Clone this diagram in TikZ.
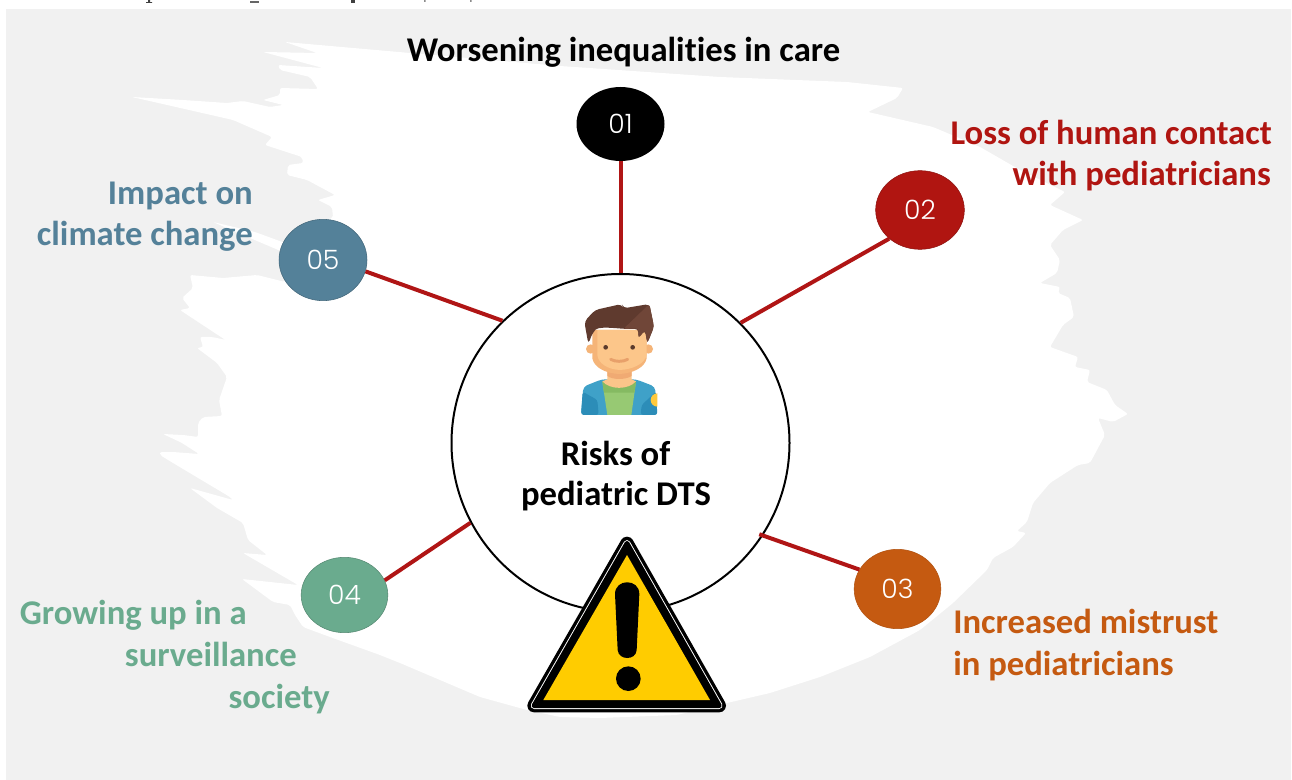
\documentclass[tikz,border=0pt]{standalone}
\usepackage{fontspec}
\usetikzlibrary{shapes.geometric}
\setmainfont{Carlito}[Ligatures=NoCommon]
\newfontfamily\numfont{Poppins Light}
\definecolor{bggray}{HTML}{F1F1F1}
\definecolor{linkred}{HTML}{B01515}
\definecolor{cred}{HTML}{B01511}
\definecolor{cora}{HTML}{C55A11}
\definecolor{cgreen}{HTML}{6AAB8E}
\definecolor{cblue}{HTML}{548199}
\tikzset{
  numnode/.style={ellipse,minimum width=#1,inner sep=0pt,text=white,font=\numfont\fontsize{20}{22}\selectfont},
  link/.style={draw=linkred,line width=3pt},
  lab/.style={font=\bfseries\fontsize{26}{28}\selectfont,inner sep=0pt},
}
\begin{document}
\begin{tikzpicture}[x=0.75pt,y=-0.75pt]
\useasboundingbox (0,0) rectangle (1292,780);
\fill[white] (0,0) rectangle (1292,780);
\fill[bggray] (6,9) rectangle (1291,780);
% cut-off caption line at the very top
\fill[black!75] (148,0) rectangle (150,2.5) (146,2.2) rectangle (152,3);
\fill[black!60] (250,1.5) rectangle (259,3);
\fill[black!75] (350.5,0) rectangle (354.5,3);
\fill[black!45] (424,0) rectangle (425.5,2) (470,0) rectangle (471.5,2);
% brush stroke
\fill[white,rounded corners=1.5pt]
(285,42)--(410,53)--(560,66)--(720,77)--(847,82)--(903,88)--(897,98)--(868,112)--(933,127)--(980,147)--(1020,170)--(1065,192)--(1050,205)--(1083,220)--(1063,230)--(1050,245)--(1060,260)--(1057,273)--(1040,283)--(1060,287)--(1058,293)--(1070,298)--(1074,317)--(1063,325)--(1050,347)--(1078,357)--(1075,367)--(1090,370)--(1087,382)--(1107,390)--(1115,405)--(1128,414)--(1113,422)--(1098,418)--(1105,435)--(1097,450)--(1090,463)--(1078,465)--(1050,483)--(1033,503)--(1027,522)--(1017,531)--(1026,533)--(1013,547)--(993,558)--(987,570)--(953,603)--(920,630)--(870,657)--(820,677)--(770,693)--(727,703)--(677,715)--(600,718)--(560,717)--(527,710)--(480,697)--(440,680)--(400,663)--(380,655)--(330,637)--(303,627)--(295,615)--(290,605)--(273,602)--(242,579)--(298,585)--(243,553)--(267,555)--(248,540)--(243,523)--(217,508)--(190,488)--(233,500)--(230,497)--(173,463)--(160,455)--(160,452)--(173,452)--(199,454)--(182,443)--(163,434)--(183,435)--(198,437)--(198,423)--(203,417)--(222,416)--(219,400)--(227,377)--(217,363)--(197,348)--(203,347)--(200,337)--(212,337)--(245,344)--(230,343)--(180,310)--(190,308)--(182,298)--(193,288)--(190,275)--(223,278)--(257,275)--(285,282)--(295,260)--(283,252)--(250,238)--(213,222)--(255,232)--(285,243)--(300,225)--(333,218)--(332,207)--(318,200)--(335,195)--(307,180)--(287,175)--(288,165)--(303,163)--(302,157)--(265,145)--(272,137)--(233,120)--(132,97)--(183,100)--(227,103)--(243,101)--(270,107)--(283,105)--(263,100)--(280,95)--(280,88)--(318,89)--(310,77)--(280,70)--(278,65)--(323,68)--(263,52)--(317,53)--cycle;

% nodes
\node[circle,draw=black,line width=1.5pt,fill=white,minimum size=253.5pt,inner sep=0pt] (main) at (620.5,443) {};
\node[numnode=66pt,minimum height=55.5pt,fill=black] (n1) at (620.5,124) {01};
\node[numnode=66.5pt,minimum height=59pt,fill=cred,draw=cred!80!black] (n2) at (920,210) {02};
\node[numnode=65pt,minimum height=59.5pt,fill=cora,draw=cora!90!black] (n3) at (897.5,589) {03};
\node[numnode=65pt,minimum height=56.5pt,fill=cgreen,draw=cgreen!80!black] (n4) at (344.5,595) {04};
\node[numnode=66pt,minimum height=61pt,fill=cblue,draw=cblue!80!black] (n5) at (323,260) {05};
% connectors
\draw[link] (n1.south) -- (main.north);
\draw[link] (n2.223) -- (main.45);
\draw[link,shorten >=-3pt] (n3.153) -- (main.-33);
\draw[link] (n4.20) -- (main.208.4);
\draw[link] (n5.-15) -- (main.134.3);

% person
\begin{scope}[shift={(520,280)},scale=1/3]
\fill[rounded corners=3pt,fill={rgb,255:red,63;green,161;blue,200}] (190,320)--(245,298)--(348,298)--(405,320)--(412,405)--(183,405)--cycle;
\fill[rounded corners=2pt,fill={rgb,255:red,44;green,141;blue,184}] (188,335)--(232,360)--(236,405)--(183,405)--cycle (408,335)--(365,375)--(362,405)--(412,405)--cycle;
\begin{scope}
\clip (340,320) rectangle (412,405);
\fill[fill={rgb,255:red,255;green,201;blue,60}] (412,360) circle[radius=20];
\end{scope}
\fill[fill={rgb,255:red,151;green,201;blue,115}] (247,305)--(348,305)--(334,405)--(262,405)--cycle;
\fill[fill={rgb,255:red,133;green,186;blue,98}] (247,305)--(348,305)--(343,338)--(252,338)--cycle;
\fill[fill={rgb,255:red,251;green,197;blue,138}] (262,260)--(335,260)--(335,298)--(348,304) .. controls (325,330) and (270,330) .. (247,304)--(262,298)--cycle;
\fill[fill={rgb,255:red,240;green,170;blue,115}] (262,265)--(335,265)--(335,288) .. controls (315,300) and (280,300) .. (262,288)--cycle;
\fill[fill={rgb,255:red,245;green,180;blue,120}] (212,207) circle[radius=14] (385,207) circle[radius=14];
\fill[fill={rgb,255:red,245;green,180;blue,120}] (217,150)--(380,150)--(380,235) .. controls (375,262) and (340,280) .. (298,282) .. controls (255,280) and (222,262) .. (217,235)--cycle;
\fill[fill={rgb,255:red,252;green,198;blue,138}] (232,150)--(380,150)--(380,225) .. controls (375,250) and (340,268) .. (300,270) .. controls (262,268) and (235,250) .. (232,225)--cycle;
\fill[rounded corners=3pt,fill={rgb,255:red,95;green,58;blue,46}] (205,192)--(193,125)--(225,90)--(305,72)--(310,85)--(388,72)--(402,140)--(382,190)--(375,150)--(355,175)--(355,145) .. controls (310,150) and (240,135) .. (218,158)--cycle;
\fill[rounded corners=2pt,fill={rgb,255:red,112;green,70;blue,56}] (388,72)--(402,140)--(382,190)--(375,150)--(355,175)--(355,145)--(310,147)--cycle;
\fill[fill={rgb,255:red,90;green,58;blue,44}] (257,202) circle[radius=7] (338,202) circle[radius=7];
\draw[draw={rgb,255:red,232;green,160;blue,106},line width=2.2pt,line cap=round] (272,238) .. controls (285,246) and (310,246) .. (323,238);
\end{scope}

\node[lab,anchor=base] (risk1) at (615.5,465) {Risks of};
\node[lab,anchor=base] (risk2) at (616,505) {pediatric DTS};

% warning sign
\begin{scope}[shift={(510,520)},scale=1/3]
\draw[line width=10pt,line join=round] (351,70)--(72,557)--(628,557)--cycle;
\draw[white,line width=5pt,line join=round] (351,70)--(72,557)--(628,557)--cycle;
\draw[line width=3.6pt,line join=round,fill=black] (351,70)--(72,557)--(628,557)--cycle;
\fill[fill={rgb,255:red,255;green,204;blue,0}] (351,105)--(100,540)--(600,540)--cycle;
\fill[black] (315,222) .. controls (315,175) and (388,175) .. (388,222) -- (380,390) .. controls (378,422) and (326,422) .. (323,390) -- cycle;
\fill[black] (355,476) circle[radius=37];
\end{scope}

% labels
\node[lab,anchor=base] (t1) at (623.5,62) {Worsening inequalities in care};
\node[lab,anchor=base east,text=cred] (t2a) at (1272,145) {Loss of human contact};
\node[lab,anchor=base east,text=cred] (t2b) at (1271,186) {with pediatricians};
\node[lab,anchor=base west,text=cora] (t3a) at (953,633) {Increased mistrust};
\node[lab,anchor=base west,text=cora] (t3b) at (953,675) {in pediatricians};
\node[lab,anchor=base east,text=cgreen] (t4a) at (247,624) {Growing up in a};
\node[lab,anchor=base east,text=cgreen] (t4b) at (297,666) {surveillance};
\node[lab,anchor=base east,text=cgreen] (t4c) at (330,708) {society};
\node[lab,anchor=base east,text=cblue] (t5a) at (253,205) {Impact on};
\node[lab,anchor=base east,text=cblue] (t5b) at (253,246) {climate change};
\end{tikzpicture}
\end{document}
